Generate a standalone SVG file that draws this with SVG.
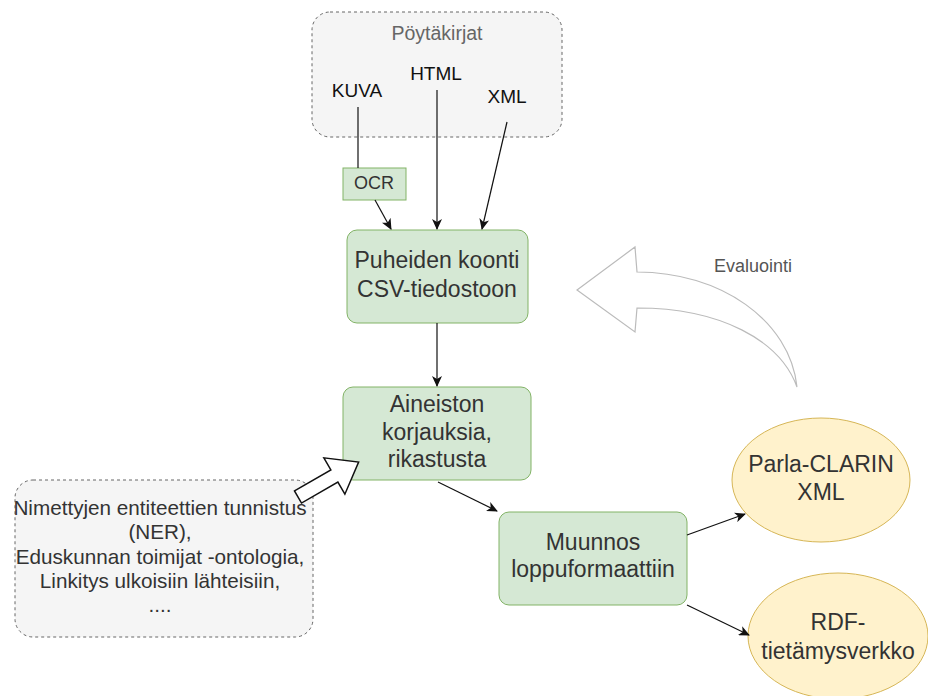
<svg xmlns="http://www.w3.org/2000/svg" width="928" height="696" viewBox="0 0 928 696">
<defs>
<style>
text{font-family:"Liberation Sans",Arial,sans-serif;text-anchor:middle}
.grp{fill:#f5f5f5;stroke:#666;stroke-width:1;stroke-dasharray:3 3}
.proc{fill:#d5e8d4;stroke:#82b366;stroke-width:1}
.out{fill:#fff2cc;stroke:#d6b656;stroke-width:1}
.node{font-size:23px;fill:#333}
.src{font-size:19px;fill:#111}
.edge{fill:none;stroke:#111;stroke-width:1.2}
.note{font-size:20.7px;fill:#333}
</style>
<marker id="arr" markerWidth="12" markerHeight="10" refX="10" refY="5" orient="auto" markerUnits="userSpaceOnUse">
<path d="M0,0 L11,5 L0,10 L3,5 Z" fill="#111"/>
</marker>
</defs>
<rect width="928" height="696" fill="#fff"/>

<g id="poytakirjat">
<rect class="grp" x="312" y="12" width="250" height="125" rx="18"/>
<text x="437" y="40" style="font-size:19.5px;fill:#666">Pöytäkirjat</text>
<text class="src" x="357" y="97">KUVA</text>
<text class="src" x="436" y="80">HTML</text>
<text class="src" x="507" y="103">XML</text>
</g>

<g id="ocr">
<rect x="343" y="168" width="63" height="32" fill="#d5e8d4" stroke="#82b366"/>
<text x="374" y="189" style="font-size:18px;fill:#333">OCR</text>
</g>

<g id="puheiden">
<rect class="proc" x="347" y="230" width="181" height="93" rx="10"/>
<text class="node" x="437" y="268">Puheiden koonti</text>
<text class="node" x="437" y="297">CSV-tiedostoon</text>
</g>

<g id="aineiston">
<rect class="proc" x="343" y="387" width="188" height="93" rx="10"/>
<text class="node" x="437" y="412">Aineiston</text>
<text class="node" x="437" y="440">korjauksia,</text>
<text class="node" x="437" y="467">rikastusta</text>
</g>

<g id="muunnos">
<rect class="proc" x="499" y="512" width="188" height="93" rx="10"/>
<text class="node" x="593" y="550">Muunnos</text>
<text class="node" x="593" y="577">loppuformaattiin</text>
</g>

<g id="parla">
<ellipse class="out" cx="821" cy="480" rx="89" ry="62"/>
<text class="node" x="821" y="472">Parla-CLARIN</text>
<text class="node" x="821" y="500">XML</text>
</g>

<g id="rdf">
<ellipse class="out" cx="838" cy="636" rx="90" ry="63"/>
<text class="node" x="838" y="630">RDF-</text>
<text class="node" x="838" y="659">tietämysverkko</text>
</g>

<g id="rikastus">
<rect class="grp" x="15" y="480" width="298" height="157" rx="18"/>
<text class="note" x="160" y="515">Nimettyjen entiteettien tunnistus</text>
<text class="note" x="160" y="539">(NER),</text>
<text class="note" x="160" y="564">Eduskunnan toimijat -ontologia,</text>
<text class="note" x="160" y="588">Linkitys ulkoisiin lähteisiin,</text>
<text class="note" x="160" y="612">....</text>
</g>

<g id="evaluointi">
<path d="M577,290 L635,247 L637,272 C720,272 790,320 797,387 C780,340 720,308 637,308 L635,332 Z" fill="#fff" stroke="#bbb" stroke-width="1.2"/>
<text x="753" y="272" style="font-size:18px;fill:#555">Evaluointi</text>
</g>

<g id="connectors">
<line class="edge" x1="358" y1="107" x2="358" y2="168"/>
<line class="edge" x1="375" y1="200" x2="391" y2="229" marker-end="url(#arr)"/>
<line class="edge" x1="437" y1="90" x2="437" y2="229" marker-end="url(#arr)"/>
<line class="edge" x1="507" y1="122" x2="482" y2="229" marker-end="url(#arr)"/>
<line class="edge" x1="437" y1="323" x2="437" y2="386" marker-end="url(#arr)"/>
<line class="edge" x1="438" y1="482" x2="497" y2="511" marker-end="url(#arr)"/>
<line class="edge" x1="687" y1="535" x2="745" y2="514" marker-end="url(#arr)"/>
<line class="edge" x1="687" y1="605" x2="749" y2="635" marker-end="url(#arr)"/>
<polygon points="0,-7 42,-7 42,-21 70,0 42,21 42,7 0,7" transform="translate(298,497) rotate(-30)" fill="#fff" stroke="#111" stroke-width="1.5"/>
</g>
</svg>
